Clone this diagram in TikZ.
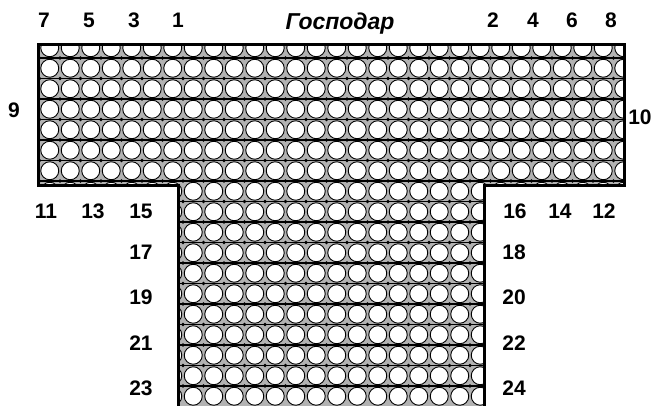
\documentclass[tikz,border=0pt]{standalone}
\usepackage{fontspec}
\setmainfont{Liberation Sans}
\begin{document}
\begin{tikzpicture}[x=1pt, y=-1pt,
    num/.style={font=\fontsize{21}{24}\selectfont\bfseries, inner sep=0pt},
    cell/.style={fill=white, draw=black, line width=0.9pt}]
    \useasboundingbox (0,0) rectangle (657,406);
    \begin{scope}
        \clip (38,45) -- (624,45) -- (624,186) -- (484,186) -- (484,406) -- (178,406) -- (178,186) -- (38,186) -- cycle;
        \fill[gray!60] (30,40) rectangle (630,406);
        \foreach \i in {0,...,28}
            \foreach \j in {-1,...,16}
                \draw[cell] (49.75+\i*20.5, 68.25+\j*20.5) circle (9.0);
        \foreach \j in {0,...,16}
            \draw[line width=1.4pt] (30,58+\j*20.5) -- (630,58+\j*20.5);
        \foreach \i in {0,...,29}
            \foreach \j in {0,...,16}
                \fill (39.5+\i*20.5, 58+\j*20.5) circle (1.8);
    \end{scope}
    \draw[line width=3pt] (178,406) -- (178,186) -- (38,186) -- (38,45) -- (624,45) -- (624,186) -- (484,186) -- (484,406);
    % top labels
    \node[num] (n7) at (44,20) {7};
    \node[num] (n5) at (89,20) {5};
    \node[num] (n3) at (134,20) {3};
    \node[num] (n1) at (178,20) {1};
    \node[num, font=\fontsize{23}{26}\selectfont\bfseries\itshape] (host) at (340,24) {Господар};
    \node[num] (n2) at (493,20) {2};
    \node[num] (n4) at (533,20) {4};
    \node[num] (n6) at (572,20) {6};
    \node[num] (n8) at (611,20) {8};
    % sides
    \node[num] (n9) at (14,110) {9};
    \node[num] (n10) at (640,117) {10};
    \node[num] (n11) at (46,211) {11};
    \node[num] (n13) at (93,211) {13};
    \node[num] (n15) at (141,211) {15};
    \node[num] (n16) at (515,211) {16};
    \node[num] (n14) at (560,211) {14};
    \node[num] (n12) at (604,211) {12};
    \foreach \a/\b/\y in {17/18/252, 19/20/297, 21/22/343, 23/24/388} {
        \node[num] (n\a) at (141,\y) {\a};
        \node[num] (n\b) at (514,\y) {\b};
    }
\end{tikzpicture}
\end{document}
